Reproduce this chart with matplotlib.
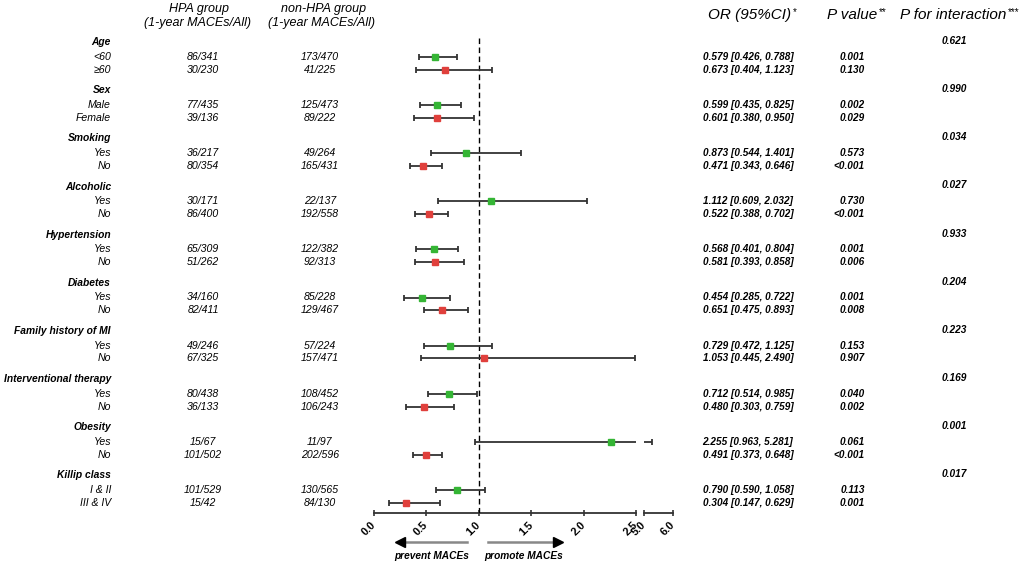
import matplotlib.pyplot as plt
import numpy as np
from matplotlib import transforms

plt.rcParams['font.family'] = ['Liberation Sans', 'DejaVu Sans']

# Subgroup data
groups = ['Age', 'Sex', 'Smoking', 'Alcoholic', 'Hypertension', 'Diabetes',
          'Family history of MI', 'Interventional therapy', 'Obesity', 'Killip class']
subgroups = [['<60', '≥60'], ['Male', 'Female'], ['Yes', 'No'], ['Yes', 'No'],
             ['Yes', 'No'], ['Yes', 'No'], ['Yes', 'No'], ['Yes', 'No'],
             ['Yes', 'No'], ['I & II', 'III & IV']]
hpa = ['86/341', '30/230', '77/435', '39/136', '36/217', '80/354', '30/171', '86/400',
       '65/309', '51/262', '34/160', '82/411', '49/246', '67/325', '80/438', '36/133',
       '15/67', '101/502', '101/529', '15/42']
non_hpa = ['173/470', '41/225', '125/473', '89/222', '49/264', '165/431', '22/137', '192/558',
           '122/382', '92/313', '85/228', '129/467', '57/224', '157/471', '108/452', '106/243',
           '11/97', '202/596', '130/565', '84/130']
odds = [0.579, 0.673, 0.599, 0.601, 0.873, 0.471, 1.112, 0.522, 0.568, 0.581,
        0.454, 0.651, 0.729, 1.053, 0.712, 0.480, 2.255, 0.491, 0.790, 0.304]
ci_lo = [0.426, 0.404, 0.435, 0.380, 0.544, 0.343, 0.609, 0.388, 0.401, 0.393,
         0.285, 0.475, 0.472, 0.445, 0.514, 0.303, 0.963, 0.373, 0.590, 0.147]
ci_hi = [0.788, 1.123, 0.825, 0.950, 1.401, 0.646, 2.032, 0.702, 0.804, 0.858,
         0.722, 0.893, 1.125, 2.490, 0.985, 0.759, 5.281, 0.648, 1.058, 0.629]
p_values = ['0.001', '0.130', '0.002', '0.029', '0.573', '<0.001', '0.730', '<0.001',
            '0.001', '0.006', '0.001', '0.008', '0.153', '0.907', '0.040', '0.002',
            '0.061', '<0.001', '0.113', '0.001']
p_interaction = ['0.621', '0.990', '0.034', '0.027', '0.933', '0.204', '0.223',
                 '0.169', '0.001', '0.017']
ticks = [0.0, 0.5, 1.0, 1.5, 2.0, 2.5, 5.0, 6.0]
tick_labels = ['0.0', '0.5', '1.0', '1.5', '2.0', '2.5', '5.0', '6.0']

# broken x axis: 0-2.5 full width, 2.5-5 squeezed, 5-6 compressed
GAP = 0.0757
S = 0.274


def fwd(v):
    v = np.asarray(v, dtype=float)
    return np.where(v <= 2.5, v,
                    np.where(v < 5, 2.5 + (v - 2.5) / 2.5 * GAP, 2.5 + GAP + (v - 5) * S))


def inv(u):
    u = np.asarray(u, dtype=float)
    return np.where(u <= 2.5, u,
                    np.where(u < 2.5 + GAP, 2.5 + (u - 2.5) / GAP * 2.5, 5 + (u - 2.5 - GAP) / S))


W, H = 1026, 562
fig = plt.figure(figsize=(W / 100, H / 100), dpi=100)
AX_BOTTOM = 513
ax = fig.add_axes([374 / W, (H - AX_BOTTOM) / H, 299 / W, AX_BOTTOM / H])
ax.set_xscale('function', functions=(fwd, inv))
ax.set_xlim(0, 6)
ax.set_ylim(AX_BOTTOM, 0)
for sp in ax.spines.values():
    sp.set_visible(False)
ax.set_yticks([])
ax.set_xticks(ticks)
ax.set_xticklabels(tick_labels)
ax.tick_params(axis='x', direction='inout', length=5, width=1.2, pad=5, labelsize=7.8,
               color='#333333')
plt.setp(ax.get_xticklabels(), rotation=45, ha='right', va='center',
         rotation_mode='anchor', fontweight='bold')
ax.plot([0, 2.5], [AX_BOTTOM, AX_BOTTOM], color='#333333', lw=1.3, clip_on=False)
ax.plot([5, 6], [AX_BOTTOM, AX_BOTTOM], color='#333333', lw=1.3, clip_on=False)

# reference line
ax.vlines(1, 38, AX_BOTTOM, colors='black', linestyles=(0, (4, 2.5)), lw=1)

tr = transforms.blended_transform_factory(fig.transFigure, ax.transData)


def col(x):
    return x / W


green = '#35b535'
red = '#e0403c'
line_c = '#333333'

k = 0
for i, g in enumerate(groups):
    row1 = 57 + 48.1 * i
    ys = [row1, row1 + 12.8]
    head_y = row1 - 14.8
    ax.text(col(111), head_y, g, transform=tr, ha='right', va='center',
            fontsize=7.4, fontweight='bold', style='italic')
    ax.text(col(967), head_y - 1, p_interaction[i], transform=tr, ha='right', va='center',
            fontsize=7.3, fontweight='bold', style='italic')
    for j in range(2):
        y = ys[j]
        ax.text(col(111), y, subgroups[i][j], transform=tr, ha='right', va='center',
                fontsize=7.6, style='italic')
        ax.text(col(203), y, hpa[k], transform=tr, ha='center', va='center',
                fontsize=7.6, style='italic')
        ax.text(col(320), y, non_hpa[k], transform=tr, ha='center', va='center',
                fontsize=7.6, style='italic')
        ax.text(col(748), y, f'{odds[k]:.3f} [{ci_lo[k]:.3f}, {ci_hi[k]:.3f}]', transform=tr,
                ha='center', va='center', fontsize=7.2, fontweight='bold', style='italic')
        ax.text(col(865), y, p_values[k], transform=tr, ha='right', va='center',
                fontsize=7.2, fontweight='bold', style='italic')

        lo, hi = ci_lo[k], ci_hi[k]
        if hi > 5:
            ax.hlines(y, lo, 2.5, color=line_c, lw=1.3)
            ax.hlines(y, 5.0, hi, color=line_c, lw=1.3)
        else:
            ax.hlines(y, lo, hi, color=line_c, lw=1.3)
        ax.vlines([lo, hi], y - 3, y + 3, color=line_c, lw=1.3)
        ax.plot(odds[k], y, 's', color=green if j == 0 else red, markersize=3.8, zorder=5)
        k += 1

# column headers
ax.text(col(199), 9, 'HPA group', transform=tr, ha='center', va='center', fontsize=9, style='italic')
ax.text(col(197), 23, '(1-year MACEs/All)', transform=tr, ha='center', va='center',
        fontsize=9, style='italic')
ax.text(col(324), 9, 'non-HPA group', transform=tr, ha='center', va='center', fontsize=9, style='italic')
ax.text(col(321), 23, '(1-year MACEs/All)', transform=tr, ha='center', va='center',
        fontsize=9, style='italic')
for x, label, stars in [(708, 'OR (95%CI)', '*'), (827, 'P value', '**'),
                        (900, 'P for interaction', '***')]:
    t = ax.text(col(x), 15, label, transform=tr, ha='left', va='center', fontsize=11, style='italic')
    ax.annotate(stars, xy=(1, 1), xycoords=t, xytext=(1, 1), textcoords='offset points',
                ha='left', va='top', fontsize=7)

# direction arrows
arrow_y = 542
ax.plot([0.24, 0.89], [arrow_y, arrow_y], color='#888888', lw=1.8, clip_on=False)
ax.plot(0.25, arrow_y, marker='<', color='black', markersize=7, clip_on=False)
ax.plot([1.09, 1.76], [arrow_y, arrow_y], color='#888888', lw=1.8, clip_on=False)
ax.plot(1.75, arrow_y, marker='>', color='black', markersize=7, clip_on=False)
ax.text(0.545, 556, 'prevent MACEs', ha='center', va='center', fontsize=7.3,
        fontweight='bold', style='italic', clip_on=False)
ax.text(1.43, 556, 'promote MACEs', ha='center', va='center', fontsize=7.3,
        fontweight='bold', style='italic', clip_on=False)

fig.savefig('out.png', dpi=100)
